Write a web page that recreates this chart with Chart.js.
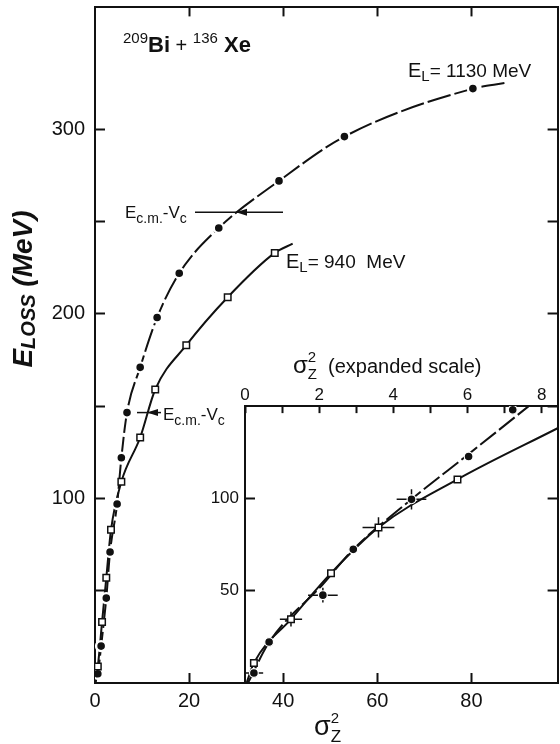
<!DOCTYPE html>
<html>
<head>
<meta charset="utf-8">
<script src="https://cdn.jsdelivr.net/npm/chart.js@4.4.1/dist/chart.umd.min.js"></script>
<style>
  body { margin: 0; background: #fff; overflow: hidden; }
  #wrap { position: relative; width: 560px; height: 744px; overflow: hidden; }
  #main { position: absolute; left: 0; top: 0; }
  #inset { position: absolute; }
</style>
</head>
<body>
<div id="wrap">
  <canvas id="main" width="565" height="744"></canvas>
  <canvas id="inset"></canvas>
</div>
<script>
var FONT = '"Liberation Sans", Arial, sans-serif';
var INK = '#111';

// main plot: sigma_Z^2 against E_loss (MeV)
var sig1130 = [0.6, 1.3, 2.4, 3.2, 4.7, 5.6, 6.8, 9.6, 13.2, 17.9, 26.3, 39.1, 53, 80.3];
var eloss1130 = [5, 20, 46, 71, 97, 122, 146.5, 171, 198, 222, 246.5, 272, 296, 322];
var sig940 = [0.6, 1.5, 2.4, 3.4, 5.6, 9.6, 12.8, 19.4, 28.2, 38.2];
var eloss940 = [9, 33, 57, 83, 109, 133, 159, 183, 209, 233];
// the drawn curves start at the origin and run a bit past the last point
var curveStart = [0, 0];
var curveEnd1130 = [87, 325];
var curveEnd940 = [42, 238];

// inset, expanded sigma scale
var isig1130 = [0.24, 0.65, 2.1, 2.92, 4.49, 6.03, 7.22];
var ieloss1130 = [5.4, 22.2, 47.6, 72.4, 99.5, 122.7, 148];
var isigErr1130 = [0.25, 0, 0.4, 0, 0.4, 0, 0];
var ielossErr1130 = [2, 0, 4, 0, 5.5, 0, 0];
var isig940 = [0.24, 1.24, 2.32, 3.6, 5.73];
var ieloss940 = [10.8, 34.6, 59.5, 84.3, 110.3];
var isigErr940 = [0, 0.3, 0, 0.43, 0];
var ielossErr940 = [0, 4, 0, 5.5, 0];
var ifitSig1130 = [0.08, 0.65, 2.1, 2.92, 4.49, 6.03, 7.65];
var ifitEloss1130 = [0, 22, 53.5, 72.4, 99.5, 124, 150];
var ifitSig940 = [0.05, 0.24, 1.24, 2.32, 3.6, 5.73, 8.43];
var ifitEloss940 = [0.5, 10.8, 34.6, 59.5, 84.3, 110.3, 138];

// ticks
var xMax = 98.3, yMax = 366;
var xTicks = [0, 20, 40, 60, 80];
var xTopTicks = [20, 40, 60, 80];
var yTicks = [50, 100, 150, 200, 250, 300];
var yLabels = [100, 200, 300];
var ixMax = 8.43, iyMax = 150;
var ixTicks = [0, 1, 2, 3, 4, 5, 6, 7, 8];
var ixLabels = [0, 2, 4, 6, 8];
var iyTicks = [50, 100];

function pts(xs, ys) {
  return xs.map(function (v, i) { return { x: v, y: ys[i] }; });
}
function curve(xs, ys, a, b) {
  return [{ x: a[0], y: a[1] }].concat(pts(xs, ys), [{ x: b[0], y: b[1] }]);
}

function axis(pos, min, max, ticks, labels, o) {
  var horiz = pos === 'top' || pos === 'bottom';
  return {
    type: 'linear', position: pos, min: min, max: max,
    afterBuildTicks: function (s) { s.ticks = ticks.map(function (v) { return { value: v }; }); },
    afterFit: function (s) {
      if (horiz) s.height = o.size; else s.width = o.size;
      // labels never sit on the frame ends, so no extra room for them
      s.paddingTop = s.paddingBottom = s.paddingLeft = s.paddingRight = 0;
    },
    grid: { drawOnChartArea: false, drawTicks: true, tickLength: -o.tick, tickWidth: 2, tickColor: INK },
    border: { display: true, color: INK, width: 2 },
    ticks: {
      autoSkip: false, maxRotation: 0, color: INK, padding: o.pad,
      font: { family: FONT, size: o.font || 20 },
      callback: function (v) { return labels.indexOf(v) >= 0 ? String(v) : ''; }
    }
  };
}

// text with sub/superscripts: [text, size, dy, style, noAdvance]
function rich(ctx, x, y, parts, rot, center) {
  ctx.save();
  ctx.translate(x, y);
  if (rot) ctx.rotate(rot);
  ctx.fillStyle = INK;
  ctx.textBaseline = 'alphabetic';
  ctx.textAlign = 'left';
  var w = 0;
  parts.forEach(function (p) {
    ctx.font = (p[3] || '') + ' ' + p[1] + 'px ' + FONT;
    if (!p[4]) w += ctx.measureText(p[0]).width;
  });
  var cx = center ? -w / 2 : 0;
  parts.forEach(function (p) {
    ctx.font = (p[3] || '') + ' ' + p[1] + 'px ' + FONT;
    ctx.fillText(p[0], cx, p[2]);
    if (!p[4]) cx += ctx.measureText(p[0]).width;
  });
  ctx.restore();
}

function arrow(ctx, x1, x2, tip, y) {
  ctx.save();
  ctx.strokeStyle = INK; ctx.fillStyle = INK; ctx.lineWidth = 1.5;
  ctx.beginPath(); ctx.moveTo(x1, y); ctx.lineTo(x2, y); ctx.stroke();
  ctx.beginPath(); ctx.moveTo(tip, y); ctx.lineTo(tip + 11, y - 3.5); ctx.lineTo(tip + 11, y + 3.5); ctx.closePath(); ctx.fill();
  ctx.restore();
}

var notes = {
  id: 'notes',
  afterDraw: function (chart) {
    var ctx = chart.ctx, ys = chart.scales.y;
    rich(ctx, 123, 52, [['209', 15, -9], ['Bi', 22, 0, 'bold'], [' + ', 20, 0], ['136', 15, -9], [' Xe', 22, 0, 'bold']]);
    rich(ctx, 408, 77, [['E', 20, 0], ['L', 15, 4], ['= 1130 MeV', 19, 0]]);
    rich(ctx, 286, 268, [['E', 20, 0], ['L', 15, 4], ['= 940  MeV', 19, 0]]);
    var ecm = [['E', 17, 0], ['c.m.', 14, 5], ['-', 17, 0], ['V', 17, 0], ['c', 14, 5]];
    var yHi = ys.getPixelForValue(255), yLo = ys.getPixelForValue(146.5);
    rich(ctx, 125, yHi + 6, ecm);
    arrow(ctx, 195, 283, 236, yHi);
    rich(ctx, 163, yLo + 7, ecm);
    arrow(ctx, 137, 161, 147, yLo);
    // axis titles
    rich(ctx, 32, 289, [['E', 28, 0, 'italic bold'], ['LOSS', 20, 3, 'italic bold'], [' (MeV)', 28, 0, 'italic bold']], -Math.PI / 2, true);
    rich(ctx, 314, 735, [['\u03c3', 27, 0], ['2', 15, -12, '', true], ['Z', 17, 7]]);
    rich(ctx, 293, 373, [['\u03c3', 24, 0], ['2', 15, -11, '', true], ['Z', 15, 6], ['  (expanded scale)', 20, 0]]);
  }
};

var errBars = {
  id: 'errBars',
  beforeDatasetsDraw: function (chart) {
    var ctx = chart.ctx, sx = chart.scales.x, sy = chart.scales.y;
    ctx.save();
    ctx.strokeStyle = INK; ctx.lineWidth = 1.5;
    [[isig1130, ieloss1130, isigErr1130, ielossErr1130], [isig940, ieloss940, isigErr940, ielossErr940]].forEach(function (s) {
      s[0].forEach(function (v, i) {
        var px = sx.getPixelForValue(v), py = sy.getPixelForValue(s[1][i]);
        ctx.beginPath();
        if (s[2][i]) { ctx.moveTo(sx.getPixelForValue(v - s[2][i]), py); ctx.lineTo(sx.getPixelForValue(v + s[2][i]), py); }
        if (s[3][i]) { ctx.moveTo(px, sy.getPixelForValue(s[1][i] - s[3][i])); ctx.lineTo(px, sy.getPixelForValue(s[1][i] + s[3][i])); }
        ctx.stroke();
      });
    });
    ctx.restore();
  }
};

function squares(data, order) {
  return { data: data, pointStyle: 'rect', pointRadius: 4.6, pointBackgroundColor: '#fff', pointBorderColor: INK, pointBorderWidth: 1.5, order: order };
}
function dots(data, ring, order) {
  return { data: data, pointStyle: 'circle', pointRadius: 3.8 + ring, pointBackgroundColor: INK, pointBorderColor: '#fff', pointBorderWidth: ring * 2, order: order };
}
function line(data, dash) {
  return { data: data, showLine: true, pointRadius: 0, borderColor: INK, borderWidth: 2, borderDash: dash || [], cubicInterpolationMode: 'monotone', order: 3 };
}

var mainChart = new Chart(document.getElementById('main'), {
  type: 'scatter',
  data: {
    datasets: [
      squares(pts(sig940, eloss940), 0),
      dots(pts(sig1130, eloss1130), 1.2, 1),
      line(curve(sig1130, eloss1130, curveStart, curveEnd1130), [24, 4]),
      line(curve(sig940, eloss940, curveStart, curveEnd940))
    ]
  },
  options: {
    responsive: false, animation: false, events: [],
    layout: { padding: 0 },
    plugins: { legend: { display: false }, tooltip: { enabled: false } },
    scales: {
      x: axis('bottom', 0, xMax, xTicks, xTicks, { size: 61, tick: 10, pad: 16 }),
      x2: axis('top', 0, xMax, xTopTicks, [], { size: 6, tick: 9, pad: 0 }),
      y: axis('left', 0, yMax, yTicks, yLabels, { size: 95, tick: 10, pad: 20 }),
      y2: axis('right', 0, yMax, yTicks, [], { size: 4.2, tick: 10, pad: 0 })
    }
  },
  plugins: [notes]
});

// inset frame: left edge fixed, top at E = 150 on the main scale, shares right/bottom edges
var area = mainChart.chartArea;
var boxLeft = 245;
var boxTop = mainChart.scales.y.getPixelForValue(iyMax);
var cvLeft = 195, cvTop = 330;
var cv = document.getElementById('inset');
cv.width = 375;
cv.height = area.bottom + 8 - cvTop;
cv.style.left = cvLeft + 'px';
cv.style.top = cvTop + 'px';
var wantRight = area.right - cvLeft;

var insetChart = new Chart(cv, {
  type: 'scatter',
  data: {
    datasets: [
      squares(pts(isig940, ieloss940), 0),
      dots(pts(isig1130, ieloss1130), 0.6, 1),
      line(pts(ifitSig1130, ifitEloss1130), [20, 4]),
      line(pts(ifitSig940, ifitEloss940))
    ]
  },
  options: {
    responsive: false, animation: false, events: [],
    layout: { padding: { left: 0, top: 0, right: cv.width - wantRight, bottom: 8 } },
    plugins: { legend: { display: false }, tooltip: { enabled: false } },
    scales: {
      x: axis('top', 0, ixMax, ixTicks, ixLabels, { size: boxTop - cvTop, tick: 7, pad: 8, font: 17 }),
      y: axis('left', 0, iyMax, iyTicks, iyTicks, { size: boxLeft - cvLeft, tick: 10, pad: 16, font: 17 })
    }
  },
  plugins: [errBars]
});
// line the inset's right end up with the main frame
insetChart.options.layout.padding.right += insetChart.chartArea.right - wantRight;
insetChart.update();
</script>
</body>
</html>
